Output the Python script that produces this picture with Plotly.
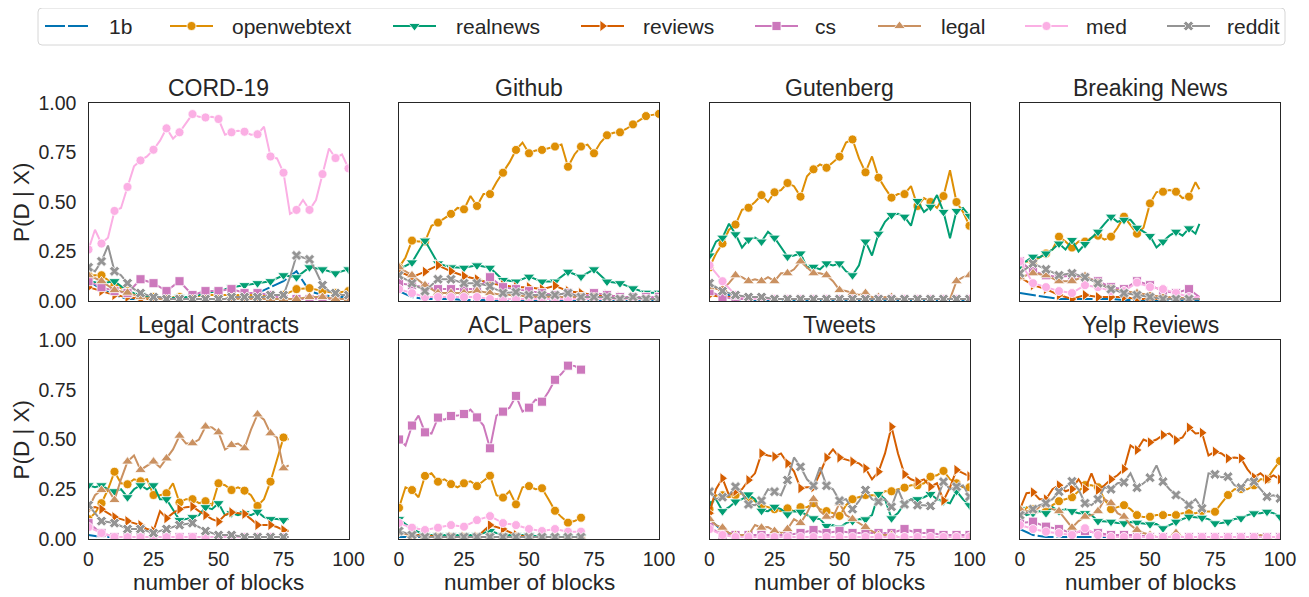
import plotly.graph_objects as go

# The page body adds an 8 px margin, so the figure is made 8 px smaller and every
# reference-pixel position below is shifted by OFF when converted to paper units.
REF_W, REF_H = 1309, 597
OFF = 8
W, H = REF_W - OFF, REF_H - OFF

NAMES = ["1b", "openwebtext", "realnews", "reviews", "cs", "legal", "med", "reddit"]
COLORS = ["#0173B2", "#DE8F05", "#029E73", "#D55E00", "#CC78BC", "#CA9161", "#FBAFE4", "#949494"]
SYMBOLS = [None, "circle", "triangle-down", "triangle-right", "square", "triangle-up", "circle", "x"]
MSIZES = [0, 9, 10, 10, 9, 10, 9, 9]

TITLES = ["CORD-19", "Github", "Gutenberg", "Breaking News",
          "Legal Contracts", "ACL Papers", "Tweets", "Yelp Reviews"]
N_BLOCKS = [100, 100, 100, 69, 77, 70, 100, 100]
X_TICKS = [0, 25, 50, 75, 100]
Y_TICKS = [0.0, 0.25, 0.5, 0.75, 1.0]
Y_TICK_TEXT = ["0.00", "0.25", "0.50", "0.75", "1.00"]

# ---------------- CORD-19 ----------------
cord_1b = [0.10, 0.06, 0.03, 0.01, 0.01, 0.01, 0.01, 0.01, 0.01, 0.01, 0.01, 0.01, 0.02, 0.04, 0.07, 0.10, 0.15, 0.05, 0.03, 0.02, 0.02]
cord_openwebtext = [0.13, 0.13, 0.08, 0.05, 0.02, 0.02, 0.02, 0.02, 0.02, 0.03, 0.03, 0.03, 0.03, 0.03, 0.03, 0.03, 0.06, 0.065, 0.05, 0.04, 0.05]
cord_realnews = [0.10, 0.09, 0.10, 0.05, 0.03, 0.02, 0.01, 0.02, 0.02, 0.04, 0.05, 0.07, 0.08, 0.09, 0.10, 0.13, 0.12, 0.17, 0.16, 0.14, 0.16]
cord_reviews = [0.07, 0.05, 0.03, 0.02, 0.01, 0.01, 0.01, 0.01, 0.01, 0.01, 0.01, 0.01, 0.01, 0.01, 0.01, 0.01, 0.01, 0.01, 0.01, 0.01, 0.01]
cord_cs = [0.10, 0.07, 0.05, 0.04, 0.11, 0.09, 0.05, 0.10, 0.03, 0.05, 0.05, 0.06, 0.04, 0.04, 0.03, 0.01, 0.01, 0.01, 0.01, 0.01, 0.01]
cord_legal = [0.13, 0.10, 0.055, 0.042, 0.02, 0.01, 0.01, 0.01, 0.01, 0.01, 0.01, 0.01, 0.01, 0.01, 0.01, 0.01, 0.01, 0.02, 0.02, 0.01, 0.01]
cord_med = [0.26, 0.36, 0.29, 0.32, 0.455, 0.47, 0.576, 0.68, 0.71, 0.73,
            0.764, 0.81, 0.872, 0.82, 0.852, 0.90, 0.944, 0.93, 0.927, 0.93,
            0.919, 0.84, 0.852, 0.86, 0.855, 0.84, 0.842, 0.88, 0.73, 0.72,
            0.648, 0.44, 0.46, 0.51, 0.46, 0.51, 0.641, 0.77, 0.722, 0.74, 0.67]
cord_reddit = [0.17, 0.15, 0.20, 0.28, 0.15, 0.13, 0.09, 0.06, 0.04, 0.03,
               0.02, 0.02, 0.01, 0.01, 0.01, 0.01, 0.01, 0.01, 0.01, 0.01,
               0.01, 0.01, 0.02, 0.02, 0.02, 0.02, 0.02, 0.02, 0.03, 0.03,
               0.03, 0.12, 0.23, 0.22, 0.21, 0.15, 0.08, 0.05, 0.04, 0.03, 0.03]

# ---------------- Github ----------------
gh_1b = [0.05, 0.02, 0.01, 0.01, 0.01, 0.005, 0.005, 0.005, 0.005, 0.005, 0.005, 0.005, 0.005, 0.005, 0.005, 0.005, 0.005, 0.005, 0.005, 0.005, 0.005]
gh_openwebtext = [0.17, 0.22, 0.305, 0.30, 0.30, 0.38, 0.396, 0.42, 0.44, 0.47,
                  0.463, 0.53, 0.48, 0.54, 0.54, 0.60, 0.648, 0.70, 0.763, 0.80,
                  0.746, 0.76, 0.763, 0.77, 0.78, 0.79, 0.678, 0.74, 0.78, 0.79,
                  0.746, 0.80, 0.837, 0.85, 0.852, 0.87, 0.892, 0.91, 0.934, 0.94, 0.945]
gh_realnews = [0.16, 0.195, 0.305, 0.19, 0.17, 0.168, 0.18, 0.168, 0.106, 0.098, 0.123, 0.098, 0.098, 0.148, 0.123, 0.16, 0.098, 0.09, 0.064, 0.042, 0.042]
gh_reviews = [0.15, 0.12, 0.148, 0.18, 0.15, 0.126, 0.11, 0.09, 0.08, 0.07, 0.07, 0.06, 0.077, 0.05, 0.04, 0.03, 0.03, 0.02, 0.02, 0.02, 0.02]
gh_cs = [0.09, 0.08, 0.07, 0.06, 0.06, 0.06, 0.06, 0.12, 0.07, 0.06, 0.05, 0.04, 0.03, 0.04, 0.02, 0.04, 0.03, 0.02, 0.02, 0.02, 0.02]
gh_legal = [0.17, 0.13, 0.08, 0.04, 0.04, 0.04, 0.05, 0.04, 0.03, 0.03, 0.02, 0.02, 0.02, 0.02, 0.02, 0.02, 0.01, 0.01, 0.01, 0.01, 0.01]
gh_med = [0.06, 0.04, 0.02, 0.02, 0.02, 0.02, 0.02, 0.01, 0.01, 0.01, 0.01, 0.01, 0.01, 0.01, 0.01, 0.01, 0.01, 0.01, 0.01, 0.01, 0.01]
gh_reddit = [0.13, 0.09, 0.05, 0.11, 0.11, 0.09, 0.09, 0.075, 0.04, 0.045, 0.03, 0.03, 0.03, 0.04, 0.02, 0.02, 0.02, 0.01, 0.02, 0.01, 0.01]

# ---------------- Gutenberg ----------------
gb_1b = [0.08, 0.05, 0.01, 0.005, 0.005, 0.005, 0.005, 0.005, 0.005, 0.005, 0.005, 0.005, 0.005, 0.005, 0.005, 0.005, 0.005, 0.005, 0.005, 0.005, 0.005]
gb_openwebtext = [0.17, 0.24, 0.29, 0.36, 0.386, 0.46, 0.471, 0.50, 0.535, 0.50,
                  0.549, 0.56, 0.596, 0.58, 0.527, 0.63, 0.665, 0.69, 0.673, 0.70,
                  0.729, 0.80, 0.816, 0.72, 0.65, 0.73, 0.623, 0.57, 0.522, 0.54,
                  0.54, 0.58, 0.48, 0.52, 0.50, 0.47, 0.53, 0.66, 0.50, 0.45, 0.38]
gb_realnews = [0.23, 0.30, 0.32, 0.39, 0.337, 0.27, 0.31, 0.32, 0.30, 0.35,
               0.32, 0.27, 0.224, 0.23, 0.24, 0.17, 0.173, 0.16, 0.19, 0.18,
               0.19, 0.15, 0.13, 0.18, 0.30, 0.23, 0.34, 0.40, 0.434, 0.44,
               0.426, 0.38, 0.505, 0.45, 0.476, 0.535, 0.45, 0.317, 0.455, 0.47, 0.43]
gb_reviews = [0.03, 0.02, 0.02, 0.01, 0.01, 0.01, 0.01, 0.01, 0.01, 0.01, 0.01, 0.01, 0.01, 0.01, 0.01, 0.01, 0.01, 0.01, 0.01, 0.01, 0.01]
gb_cs = [0.05, 0.02, 0.01, 0.01, 0.01, 0.01, 0.01, 0.01, 0.01, 0.01, 0.01, 0.01, 0.01, 0.01, 0.01, 0.01, 0.01, 0.01, 0.01, 0.01, 0.01]
gb_legal = [0.07, 0.06, 0.06, 0.09, 0.13, 0.12, 0.10, 0.11, 0.10, 0.12,
            0.10, 0.14, 0.14, 0.16, 0.20, 0.17, 0.14, 0.14, 0.13, 0.10,
            0.055, 0.05, 0.04, 0.03, 0.04, 0.02, 0.02, 0.02, 0.02, 0.01,
            0.01, 0.01, 0.01, 0.01, 0.01, 0.01, 0.01, 0.01, 0.10, 0.12, 0.13]
gb_med = [0.18, 0.10, 0.03, 0.01, 0.01, 0.01, 0.01, 0.01, 0.01, 0.01, 0.01, 0.01, 0.01, 0.01, 0.01, 0.01, 0.01, 0.01, 0.01, 0.01, 0.01]
gb_reddit = [0.09, 0.05, 0.03, 0.02, 0.02, 0.01, 0.01, 0.01, 0.01, 0.01, 0.01, 0.01, 0.01, 0.01, 0.01, 0.01, 0.01, 0.01, 0.01, 0.01, 0.01]

# ---------------- Breaking News ----------------
bn_1b = [0.04, 0.03, 0.02, 0.01, 0.01, 0.01, 0.01, 0.01, 0.005, 0.005, 0.005, 0.005, 0.005, 0.005, 0.005]
bn_openwebtext = [0.18, 0.20, 0.20, 0.22, 0.24, 0.26, 0.325, 0.30, 0.27, 0.30,
                  0.30, 0.32, 0.33, 0.31, 0.325, 0.37, 0.426, 0.38, 0.34, 0.37,
                  0.493, 0.55, 0.552, 0.56, 0.552, 0.52, 0.527, 0.60, 0.564]
bn_realnews = [0.18, 0.20, 0.224, 0.22, 0.24, 0.26, 0.29, 0.26, 0.308, 0.25,
               0.288, 0.32, 0.35, 0.39, 0.426, 0.40, 0.41, 0.41, 0.37, 0.35,
               0.328, 0.27, 0.30, 0.33, 0.35, 0.33, 0.367, 0.34, 0.39]
bn_reviews = [0.12, 0.08, 0.06, 0.03, 0.01, 0.03, 0.02, 0.02, 0.02, 0.01, 0.01, 0.01, 0.01, 0.01, 0.01]
bn_cs = [0.20, 0.15, 0.13, 0.12, 0.13, 0.12, 0.10, 0.07, 0.06, 0.10, 0.08, 0.05, 0.04, 0.06, 0.02]
bn_legal = [0.12, 0.14, 0.13, 0.10, 0.10, 0.126, 0.09, 0.06, 0.05, 0.04, 0.03, 0.02, 0.02, 0.01, 0.01]
bn_med = [0.20, 0.09, 0.07, 0.05, 0.04, 0.08, 0.07, 0.05, 0.05, 0.093, 0.07, 0.06, 0.04, 0.02, 0.02]
bn_reddit = [0.14, 0.19, 0.16, 0.13, 0.14, 0.12, 0.09, 0.06, 0.04, 0.03, 0.02, 0.01, 0.01, 0.01, 0.01]

# ---------------- Legal Contracts ----------------
lc_1b = [0.02, 0.01, 0.01, 0.01, 0.01, 0.01, 0.01, 0.01, 0.01, 0.01, 0.01, 0.01, 0.01, 0.01, 0.01, 0.01, 0.01]
lc_openwebtext = [0.10, 0.13, 0.18, 0.25, 0.338, 0.28, 0.275, 0.30, 0.29, 0.30,
                  0.221, 0.22, 0.23, 0.28, 0.183, 0.20, 0.20, 0.18, 0.19, 0.17,
                  0.28, 0.27, 0.246, 0.26, 0.243, 0.22, 0.166, 0.20, 0.288, 0.40,
                  0.51, 0.50]
lc_realnews = [0.27, 0.26, 0.27, 0.25, 0.24, 0.25, 0.21, 0.25, 0.27, 0.25,
               0.27, 0.20, 0.20, 0.15, 0.095, 0.10, 0.11, 0.12, 0.16, 0.15,
               0.18, 0.12, 0.13, 0.12, 0.13, 0.12, 0.137, 0.11, 0.10, 0.10,
               0.095, 0.10]
lc_reviews = [0.15, 0.16, 0.15, 0.13, 0.11, 0.10, 0.09, 0.08, 0.07, 0.05,
              0.04, 0.14, 0.104, 0.13, 0.15, 0.16, 0.163, 0.14, 0.12, 0.10,
              0.087, 0.12, 0.134, 0.13, 0.126, 0.10, 0.07, 0.07, 0.07, 0.06,
              0.045, 0.04]
lc_cs = [0.08, 0.03, 0.01, 0.01, 0.01, 0.01, 0.01, 0.01, 0.01, 0.01, 0.01, 0.01, 0.01, 0.01, 0.01, 0.01, 0.01]
lc_legal = [0.154, 0.22, 0.246, 0.25, 0.196, 0.30, 0.389, 0.42, 0.347, 0.37,
            0.389, 0.36, 0.405, 0.45, 0.519, 0.48, 0.481, 0.50, 0.565, 0.56,
            0.536, 0.45, 0.472, 0.48, 0.456, 0.55, 0.626, 0.60, 0.531, 0.51,
            0.355, 0.37]
lc_med = [0.06, 0.03, 0.01, 0.01, 0.01, 0.01, 0.01, 0.01, 0.01, 0.01, 0.01, 0.01, 0.01, 0.01, 0.01, 0.01, 0.01]
lc_reddit = [0.17, 0.09, 0.08, 0.05, 0.05, 0.03, 0.05, 0.07, 0.08, 0.04, 0.02, 0.02, 0.01, 0.01, 0.01, 0.01, 0.01]

# ---------------- ACL Papers ----------------
acl_1b = [0.01, 0.01, 0.01, 0.01, 0.01, 0.01, 0.01, 0.01, 0.01, 0.01, 0.01, 0.01, 0.01, 0.01, 0.01]
acl_openwebtext = [0.157, 0.26, 0.246, 0.21, 0.317, 0.33, 0.288, 0.30, 0.276, 0.26,
                   0.28, 0.29, 0.266, 0.29, 0.318, 0.22, 0.208, 0.24, 0.174, 0.26,
                   0.266, 0.25, 0.255, 0.20, 0.142, 0.11, 0.082, 0.09, 0.107]
acl_realnews = [0.10, 0.05, 0.02, 0.02, 0.02, 0.02, 0.02, 0.04, 0.02, 0.02, 0.02, 0.01, 0.01, 0.01, 0.01]
acl_reviews = [0.03, 0.02, 0.02, 0.01, 0.01, 0.01, 0.01, 0.07, 0.05, 0.02, 0.01, 0.01, 0.01, 0.01, 0.01]
acl_cs = [0.50, 0.47, 0.57, 0.62, 0.536, 0.53, 0.61, 0.60, 0.618, 0.62,
          0.628, 0.65, 0.611, 0.57, 0.456, 0.62, 0.64, 0.66, 0.719, 0.64,
          0.66, 0.70, 0.69, 0.74, 0.80, 0.83, 0.871, 0.87, 0.851]
acl_legal = [0.03, 0.02, 0.01, 0.01, 0.01, 0.01, 0.01, 0.01, 0.01, 0.01, 0.01, 0.01, 0.01, 0.01, 0.01]
acl_med = [0.08, 0.057, 0.045, 0.057, 0.07, 0.062, 0.095, 0.115, 0.08, 0.07, 0.05, 0.04, 0.05, 0.037, 0.037]
acl_reddit = [0.04, 0.02, 0.01, 0.01, 0.01, 0.01, 0.01, 0.01, 0.01, 0.01, 0.01, 0.01, 0.01, 0.01, 0.01]

# ---------------- Tweets ----------------
tw_1b = [0.10, 0.04, 0.02, 0.01, 0.01, 0.01, 0.01, 0.01, 0.01, 0.01, 0.01, 0.01, 0.01, 0.01, 0.01, 0.01, 0.01, 0.01, 0.01, 0.01, 0.01]
tw_openwebtext = [0.15, 0.22, 0.22, 0.21, 0.22, 0.23, 0.20, 0.19, 0.17, 0.16,
                  0.15, 0.14, 0.154, 0.14, 0.16, 0.16, 0.18, 0.15, 0.14, 0.13,
                  0.116, 0.17, 0.20, 0.21, 0.221, 0.22, 0.22, 0.24, 0.24, 0.25,
                  0.258, 0.27, 0.27, 0.28, 0.313, 0.32, 0.342, 0.30, 0.28, 0.26, 0.26]
tw_realnews = [0.18, 0.20, 0.14, 0.16, 0.188, 0.20, 0.224, 0.20, 0.142, 0.14,
               0.162, 0.15, 0.124, 0.14, 0.137, 0.12, 0.104, 0.10, 0.065, 0.07,
               0.057, 0.08, 0.09, 0.10, 0.099, 0.12, 0.226, 0.20, 0.104, 0.13,
               0.179, 0.20, 0.20, 0.21, 0.226, 0.20, 0.19, 0.18, 0.241, 0.20, 0.17]
tw_reviews = [0.13, 0.25, 0.305, 0.22, 0.24, 0.25, 0.296, 0.33, 0.43, 0.42,
              0.414, 0.43, 0.38, 0.34, 0.255, 0.26, 0.26, 0.33, 0.409, 0.45,
              0.409, 0.40, 0.389, 0.38, 0.355, 0.30, 0.338, 0.43, 0.564, 0.43,
              0.325, 0.30, 0.288, 0.30, 0.263, 0.28, 0.193, 0.26, 0.347, 0.33, 0.315]
tw_cs = [0.06, 0.02, 0.02, 0.02, 0.02, 0.02, 0.02, 0.03, 0.045, 0.03, 0.04, 0.03, 0.03, 0.03, 0.03, 0.05, 0.03, 0.03, 0.02, 0.02, 0.02]
tw_legal = [0.10, 0.07, 0.057, 0.03, 0.02, 0.02, 0.02, 0.07, 0.057, 0.06,
            0.04, 0.03, 0.05, 0.10, 0.08, 0.13, 0.20, 0.14, 0.112, 0.11,
            0.18, 0.12, 0.10, 0.08, 0.06, 0.04, 0.02, 0.02, 0.02, 0.01,
            0.01, 0.01, 0.01, 0.01, 0.01, 0.01, 0.01, 0.01, 0.01, 0.01, 0.01]
tw_med = [0.05, 0.02, 0.01, 0.01, 0.01, 0.01, 0.01, 0.01, 0.01, 0.01, 0.01, 0.01, 0.01, 0.01, 0.01, 0.01, 0.01, 0.01, 0.01, 0.01, 0.01]
tw_reddit = [0.238, 0.20, 0.21, 0.22, 0.263, 0.23, 0.174, 0.17, 0.193, 0.25,
             0.238, 0.22, 0.296, 0.41, 0.363, 0.30, 0.268, 0.36, 0.268, 0.25,
             0.193, 0.20, 0.15, 0.19, 0.246, 0.20, 0.188, 0.20, 0.162, 0.25,
             0.174, 0.20, 0.17, 0.17, 0.166, 0.20, 0.288, 0.25, 0.263, 0.27, 0.213]

# ---------------- Yelp Reviews ----------------
yr_1b = [0.05, 0.02, 0.01, 0.01, 0.01, 0.01, 0.01, 0.01, 0.01, 0.01, 0.01, 0.01, 0.01, 0.01, 0.01, 0.01, 0.01, 0.01, 0.01, 0.01, 0.01]
yr_openwebtext = [0.10, 0.16, 0.15, 0.14, 0.14, 0.17, 0.19, 0.20, 0.21, 0.24,
                  0.271, 0.27, 0.26, 0.20, 0.15, 0.16, 0.17, 0.15, 0.12, 0.11,
                  0.112, 0.12, 0.12, 0.12, 0.12, 0.13, 0.13, 0.13, 0.14, 0.14,
                  0.137, 0.18, 0.221, 0.25, 0.251, 0.25, 0.27, 0.30, 0.30, 0.35, 0.392]
yr_realnews = [0.15, 0.12, 0.13, 0.14, 0.13, 0.16, 0.14, 0.15, 0.14, 0.13,
               0.13, 0.12, 0.09, 0.09, 0.087, 0.08, 0.079, 0.085, 0.082, 0.08,
               0.074, 0.075, 0.054, 0.07, 0.087, 0.10, 0.112, 0.11, 0.107, 0.10,
               0.079, 0.08, 0.087, 0.10, 0.104, 0.12, 0.129, 0.13, 0.137, 0.13, 0.112]
yr_reviews = [0.15, 0.23, 0.235, 0.20, 0.20, 0.25, 0.27, 0.24, 0.251, 0.30,
              0.25, 0.33, 0.246, 0.27, 0.30, 0.32, 0.352, 0.47, 0.447, 0.50,
              0.486, 0.50, 0.523, 0.53, 0.497, 0.51, 0.56, 0.53, 0.534, 0.42,
              0.439, 0.43, 0.405, 0.41, 0.405, 0.35, 0.31, 0.33, 0.30, 0.32, 0.30]
yr_cs = [0.08, 0.087, 0.062, 0.05, 0.03, 0.04, 0.03, 0.02, 0.02, 0.02, 0.01, 0.01, 0.01, 0.01, 0.01, 0.01, 0.01, 0.01, 0.01, 0.01, 0.01]
yr_legal = [0.15, 0.14, 0.14, 0.16, 0.17, 0.15, 0.14, 0.10, 0.057, 0.09,
            0.112, 0.12, 0.14, 0.20, 0.18, 0.13, 0.112, 0.07, 0.045, 0.03,
            0.02, 0.01, 0.01, 0.01, 0.03, 0.01, 0.01, 0.01, 0.01, 0.01,
            0.01, 0.01, 0.01, 0.01, 0.01, 0.01, 0.01, 0.02, 0.01, 0.01, 0.01]
yr_med = [0.07, 0.05, 0.037, 0.03, 0.02, 0.054, 0.02, 0.01, 0.01, 0.01, 0.01, 0.01, 0.01, 0.01, 0.01, 0.01, 0.01, 0.01, 0.01, 0.01, 0.01]
yr_reddit = [0.12, 0.13, 0.15, 0.17, 0.18, 0.20, 0.238, 0.26, 0.29, 0.25,
             0.18, 0.17, 0.20, 0.26, 0.25, 0.28, 0.285, 0.33, 0.258, 0.28,
             0.308, 0.37, 0.288, 0.25, 0.221, 0.20, 0.171, 0.20, 0.154, 0.33,
             0.325, 0.31, 0.313, 0.27, 0.258, 0.30, 0.288, 0.25, 0.213, 0.22, 0.204]

PANELS = [
    [cord_1b, cord_openwebtext, cord_realnews, cord_reviews, cord_cs, cord_legal, cord_med, cord_reddit],
    [gh_1b, gh_openwebtext, gh_realnews, gh_reviews, gh_cs, gh_legal, gh_med, gh_reddit],
    [gb_1b, gb_openwebtext, gb_realnews, gb_reviews, gb_cs, gb_legal, gb_med, gb_reddit],
    [bn_1b, bn_openwebtext, bn_realnews, bn_reviews, bn_cs, bn_legal, bn_med, bn_reddit],
    [lc_1b, lc_openwebtext, lc_realnews, lc_reviews, lc_cs, lc_legal, lc_med, lc_reddit],
    [acl_1b, acl_openwebtext, acl_realnews, acl_reviews, acl_cs, acl_legal, acl_med, acl_reddit],
    [tw_1b, tw_openwebtext, tw_realnews, tw_reviews, tw_cs, tw_legal, tw_med, tw_reddit],
    [yr_1b, yr_openwebtext, yr_realnews, yr_reviews, yr_cs, yr_legal, yr_med, yr_reddit],
]


def make_x(n, k):
    """x positions (blocks) for a series sampled every 2.5 or 5 blocks up to n."""
    for step in (2.5, 5.0):
        g = [i * step for i in range(int(n // step) + 1)]
        if g[-1] < n:
            g.append(float(n))
        if len(g) == k:
            return g
    raise ValueError(f"series length {k} does not fit n={n}")


def fx(px):
    return (px - OFF) / W


def fy(py):
    return 1 - (py - OFF) / H


# ---------------- layout geometry (reference pixels) ----------------
COL_LEFT = [88.5, 399.0, 709.5, 1020.0]
PANEL_W = 260.0
ROW_TOP = [103.0, 340.0]
ROW_H = [198.0, 199.0]

FONT = "Liberation Sans, Arial, sans-serif"
TXT = "#262626"
EDGE = "#262626"
LINE_W = 2.0
DASH_1B = "16px,3px"

fig = go.Figure()
layout = dict(
    width=W, height=H,
    margin=dict(l=0, r=0, t=0, b=0, autoexpand=False),
    paper_bgcolor="white", plot_bgcolor="rgba(0,0,0,0)",
    showlegend=False,
    font=dict(family=FONT, color=TXT, size=19),
)
annotations = []
shapes = []

for i, (title, n, series) in enumerate(zip(TITLES, N_BLOCKS, PANELS)):
    r, c = divmod(i, 4)
    k = i + 1
    xa = "x" if k == 1 else f"x{k}"
    ya = "y" if k == 1 else f"y{k}"
    left, top = COL_LEFT[c], ROW_TOP[r]
    right, bottom = left + PANEL_W, top + ROW_H[r]
    layout["xaxis" if k == 1 else f"xaxis{k}"] = dict(
        domain=[fx(left), fx(right)], anchor=ya, range=[0, 100],
        tickvals=X_TICKS, showticklabels=(r == 1), ticks="",
        ticklabelstandoff=2,
        showline=True, mirror=True, linecolor=EDGE, linewidth=1.25,
        showgrid=False, zeroline=False, automargin=False,
        tickfont=dict(size=19.5, color=TXT, family=FONT),
    )
    layout["yaxis" if k == 1 else f"yaxis{k}"] = dict(
        domain=[fy(bottom), fy(top)], anchor=xa, range=[0, 1],
        tickvals=Y_TICKS, ticktext=Y_TICK_TEXT, showticklabels=(c == 0), ticks="",
        ticklabelstandoff=7,
        showline=True, mirror=True, linecolor=EDGE, linewidth=1.25,
        showgrid=False, zeroline=False, automargin=False,
        tickfont=dict(size=19.5, color=TXT, family=FONT),
    )
    annotations.append(dict(
        text=title, x=fx((left + right) / 2), y=fy(top - 15),
        xref="paper", yref="paper", xanchor="center", yanchor="middle",
        showarrow=False, font=dict(size=23, color=TXT, family=FONT)))
    if r == 1:
        annotations.append(dict(
            text="number of blocks", x=fx((left + right) / 2), y=fy(582),
            xref="paper", yref="paper", xanchor="center", yanchor="middle",
            showarrow=False, font=dict(size=22.5, color=TXT, family=FONT)))
    if c == 0:
        annotations.append(dict(
            text="P(D | X)", x=fx(21), y=fy((top + bottom) / 2),
            xref="paper", yref="paper", xanchor="center", yanchor="middle",
            textangle=-90, showarrow=False, font=dict(size=22.5, color=TXT, family=FONT)))

    for j, vals in enumerate(series):
        xs = make_x(n, len(vals))
        fig.add_trace(go.Scatter(
            x=xs, y=vals, mode="lines", xaxis=xa, yaxis=ya,
            line=dict(color=COLORS[j], width=LINE_W, dash=(DASH_1B if j == 0 else "solid")),
            showlegend=False, hoverinfo="skip"))
        if SYMBOLS[j]:
            mx = [x for x in xs if x % 5 == 0]
            my = [v for x, v in zip(xs, vals) if x % 5 == 0]
            fig.add_trace(go.Scatter(
                x=mx, y=my, mode="markers", xaxis=xa, yaxis=ya,
                marker=dict(symbol=SYMBOLS[j], size=MSIZES[j], color=COLORS[j],
                            line=dict(color="white", width=0.8)),
                showlegend=False, hoverinfo="skip"))

# ---------------- manual legend on an overlay axis in reference-pixel units ----------------
layout["xaxis9"] = dict(domain=[0, 1], anchor="y9", range=[OFF, OFF + W], visible=False, fixedrange=True)
layout["yaxis9"] = dict(domain=[0, 1], anchor="x9", range=[OFF + H, OFF], visible=False, fixedrange=True)

LEG_LINE_X0 = [45, 170, 393, 581, 755, 878, 1025, 1167]
LEG_TEXT_X = [107, 230, 454, 641, 813, 939, 1084, 1225]
LEG_Y = 26
BOX = (38, 8, 1285, 45)
rad = 4
bx0, by0, bx1, by1 = BOX
shapes.append(dict(
    type="path", xref="x9", yref="y9",
    path=(f"M {bx0 + rad} {by0} L {bx1 - rad} {by0} Q {bx1} {by0} {bx1} {by0 + rad} "
          f"L {bx1} {by1 - rad} Q {bx1} {by1} {bx1 - rad} {by1} L {bx0 + rad} {by1} "
          f"Q {bx0} {by1} {bx0} {by1 - rad} L {bx0} {by0 + rad} Q {bx0} {by0} {bx0 + rad} {by0} Z"),
    line=dict(color="#d6d6d6", width=1), fillcolor="white", layer="below"))

for j, name in enumerate(NAMES):
    x0 = LEG_LINE_X0[j]
    fig.add_trace(go.Scatter(
        x=[x0, x0 + 43], y=[LEG_Y, LEG_Y], mode="lines", xaxis="x9", yaxis="y9",
        line=dict(color=COLORS[j], width=LINE_W, dash=("20px,3px" if j == 0 else "solid")),
        showlegend=False, hoverinfo="skip", cliponaxis=False))
    if SYMBOLS[j]:
        fig.add_trace(go.Scatter(
            x=[x0 + 21.5], y=[LEG_Y], mode="markers", xaxis="x9", yaxis="y9",
            marker=dict(symbol=SYMBOLS[j], size=MSIZES[j], color=COLORS[j],
                        line=dict(color="white", width=0.8)),
            showlegend=False, hoverinfo="skip", cliponaxis=False))
    annotations.append(dict(
        text=name, x=LEG_TEXT_X[j], y=LEG_Y, xref="x9", yref="y9",
        xanchor="left", yanchor="middle", showarrow=False,
        font=dict(size=21, color=TXT, family=FONT)))

layout["annotations"] = annotations
layout["shapes"] = shapes
fig.update_layout(**layout)
fig.write_html("out.html")
